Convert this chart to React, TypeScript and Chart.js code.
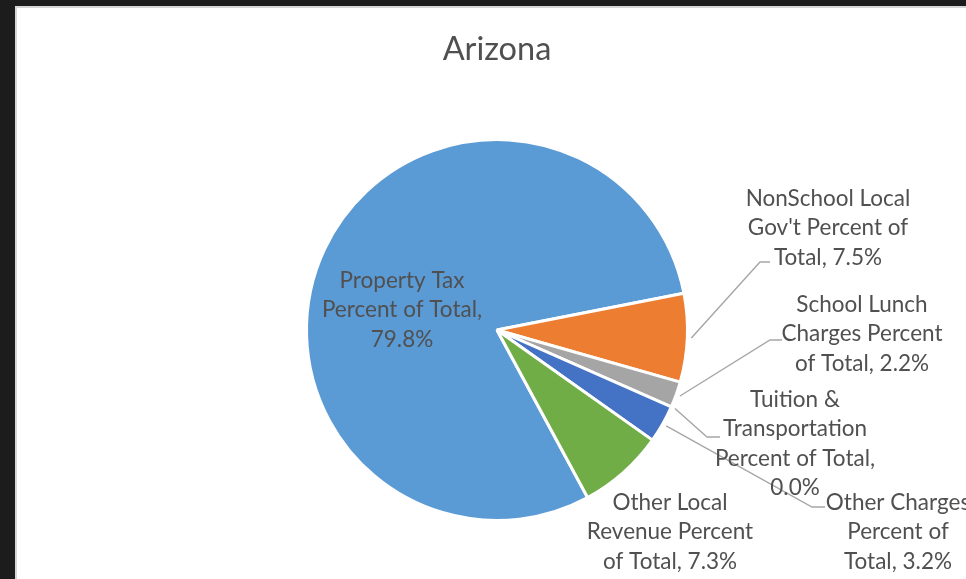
import React, { useEffect, useRef } from "react";
import { Chart, registerables } from "chart.js";

Chart.register(...registerables);

const TITLE = "Arizona";
const CATEGORIES = [
  "Property Tax",
  "NonSchool Local Gov't",
  "School Lunch Charges",
  "Tuition & Transportation",
  "Other Charges",
  "Other Local Revenue",
];
const VALUES = [79.8, 7.5, 2.2, 0.0, 3.2, 7.3];
const LABEL_LINES = [
  ["Property Tax", "Percent of Total,", "79.8%"],
  ["NonSchool Local", "Gov't Percent of", "Total, 7.5%"],
  ["School Lunch", "Charges Percent", "of Total, 2.2%"],
  ["Tuition &", "Transportation", "Percent of Total,", "0.0%"],
  ["Other Charges", "Percent of", "Total, 3.2%"],
  ["Other Local", "Revenue Percent", "of Total, 7.3%"],
];
const COLORS = ["#5B9BD5", "#ED7D31", "#A5A5A5", "#FFC000", "#4472C4", "#70AD47"];

const TEXT_COLOR = "#505050";
const LEADER_COLOR = "#A6A6A6";
const FONT_FAMILY = "Lato, 'Open Sans', sans-serif";
const LABEL_SIZE = 22.5;
const LINE_GAP = 29.3;

// label placement relative to pie centre: text centre x, first baseline y, optional leader elbow/end
const PLACEMENT = [
  { cx: -95, by: -42 },
  { cx: 331, by: -124, elbow: [263, -68], end: [273, -68] },
  { cx: 365, by: -18, elbow: [273, 10], end: [285, 10] },
  { cx: 298, by: 77, elbow: [210, 107], end: [223, 107] },
  { cx: 401, by: 180, elbow: [315, 177], end: [328, 177] },
  { cx: 173, by: 180 },
];

const labelPlugin = {
  id: "excelLabels",
  afterDatasetsDraw(chart: any) {
    const ctx = chart.ctx;
    const meta = chart.getDatasetMeta(0);
    const arcs = meta.data;
    if (!arcs.length) return;
    const cx = arcs[0].x;
    const cy = arcs[0].y;
    ctx.save();
    ctx.strokeStyle = LEADER_COLOR;
    ctx.lineWidth = 1.4;
    arcs.forEach((arc: any, i: number) => {
      const p = PLACEMENT[i];
      if (!p.elbow) return;
      const mid = (arc.startAngle + arc.endAngle) / 2;
      const r = arc.outerRadius + 4;
      ctx.beginPath();
      ctx.moveTo(cx + Math.cos(mid) * r, cy + Math.sin(mid) * r);
      ctx.lineTo(cx + p.elbow[0], cy + p.elbow[1]);
      ctx.lineTo(cx + p.end[0], cy + p.end[1]);
      ctx.stroke();
    });
    ctx.fillStyle = TEXT_COLOR;
    ctx.font = `${LABEL_SIZE}px ${FONT_FAMILY}`;
    ctx.textAlign = "center";
    ctx.textBaseline = "alphabetic";
    LABEL_LINES.forEach((lines, i) => {
      const p = PLACEMENT[i];
      lines.forEach((t, k) => {
        ctx.fillText(t, cx + p.cx, cy + p.by + k * LINE_GAP);
      });
    });
    ctx.restore();
  },
};

export default function App() {
  const ref = useRef<HTMLCanvasElement>(null);
  useEffect(() => {
    if (!ref.current) return;
    const chart = new Chart(ref.current, {
      type: "pie",
      data: {
        labels: CATEGORIES,
        datasets: [
          {
            data: VALUES,
            backgroundColor: COLORS,
            borderColor: "#FFFFFF",
            borderWidth: 3,
          },
        ],
      },
      options: {
        responsive: false,
        animation: false,
        devicePixelRatio: 1,
        events: [],
        rotation: 151.6,
        layout: { padding: { left: 305, right: 277, top: 0, bottom: 57 } },
        plugins: {
          legend: { display: false },
          tooltip: { enabled: false },
          title: {
            display: true,
            text: TITLE,
            color: TEXT_COLOR,
            font: { family: FONT_FAMILY, size: 32.5, weight: "normal", lineHeight: 1.2 },
            padding: { top: 30, bottom: 69 },
          },
        },
      },
      plugins: [labelPlugin],
    });
    return () => chart.destroy();
  }, []);
  return (
    <div
      style={{
        position: "absolute",
        left: 0,
        top: 0,
        width: 966,
        height: 579,
        overflow: "hidden",
        background: "#1c1c1c",
      }}
    >
      <div
        style={{
          position: "absolute",
          left: 15,
          top: 6,
          width: 970,
          height: 590,
          background: "#ffffff",
          borderLeft: "2px solid #d6d6d6",
          borderTop: "2px solid #d6d6d6",
        }}
      />
      <canvas
        ref={ref}
        width={966}
        height={579}
        style={{ position: "absolute", left: 0, top: 0, width: 966, height: 579 }}
      />
    </div>
  );
}
